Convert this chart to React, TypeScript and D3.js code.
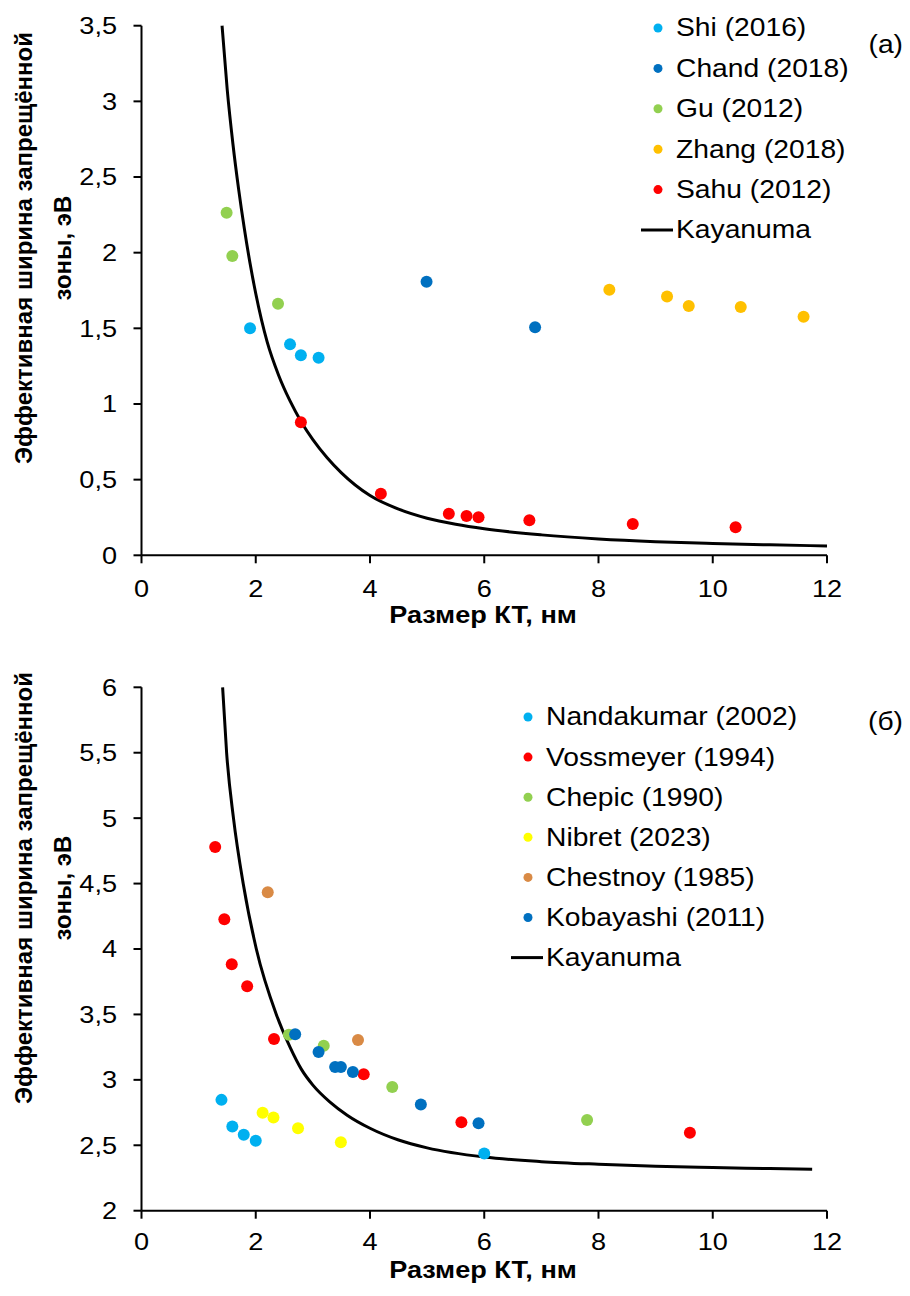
import React from "react";
import * as d3 from "d3";

// ---------- Panel (a) data ----------
const shiA: [number, number][] = [[1.9, 1.5], [2.6, 1.394], [2.79, 1.322], [3.1, 1.306]];
const chandA: [number, number][] = [[4.99, 1.808], [6.89, 1.507]];
const guA: [number, number][] = [[1.49, 2.264], [1.59, 1.978], [2.39, 1.663]];
const zhangA: [number, number][] = [[8.19, 1.755], [9.2, 1.711], [9.58, 1.648], [10.49, 1.641], [11.59, 1.577]];
const sahuA: [number, number][] = [[2.79, 0.879], [4.19, 0.407], [5.38, 0.275], [5.69, 0.26], [5.9, 0.251], [6.79, 0.231], [8.6, 0.207], [10.4, 0.185]];
const kayanumaA: [number, number][] = [
  [1.41, 3.5], [1.5, 3.08], [1.6, 2.72], [1.7, 2.42], [1.8, 2.16], [1.9, 1.93], [2.0, 1.73],
  [2.2, 1.41], [2.4, 1.19], [2.6, 1.02], [2.8, 0.88], [3.0, 0.765], [3.25, 0.645], [3.5, 0.545],
  [4.0, 0.395], [4.5, 0.305], [5.0, 0.245], [5.5, 0.205], [6.0, 0.175], [7.0, 0.135], [8.0, 0.108],
  [9.0, 0.09], [10.0, 0.078], [11.0, 0.069], [12.0, 0.062],
];
const yTicksA = [0, 0.5, 1, 1.5, 2, 2.5, 3, 3.5];

// ---------- Panel (б) data ----------
const nandakumarB: [number, number][] = [[1.4, 2.847], [1.59, 2.643], [1.79, 2.58], [2.0, 2.534], [6.0, 2.437]];
const vossmeyerB: [number, number][] = [[1.29, 4.78], [1.45, 4.227], [1.58, 3.884], [1.85, 3.716], [2.32, 3.312], [3.89, 3.042], [5.6, 2.676], [9.6, 2.595]];
const chepicB: [number, number][] = [[2.58, 3.345], [3.19, 3.261], [4.39, 2.946], [7.8, 2.694]];
const nibretB: [number, number][] = [[2.12, 2.748], [2.31, 2.712], [2.74, 2.631], [3.49, 2.524]];
const chestnoyB: [number, number][] = [[2.21, 4.433], [3.79, 3.304]];
const kobayashiB: [number, number][] = [[2.69, 3.348], [3.1, 3.213], [3.39, 3.098], [3.49, 3.098], [3.7, 3.06], [4.89, 2.811], [5.9, 2.669]];
const kayanumaB: [number, number][] = [
  [1.42, 6.0], [1.49, 5.5], [1.61, 5.0], [1.78, 4.5], [2.01, 4.0], [2.36, 3.5], [2.6, 3.25],
  [2.8, 3.08], [3.0, 2.96], [3.3, 2.83], [3.6, 2.73], [4.0, 2.63], [4.5, 2.54], [5.0, 2.48],
  [6.0, 2.41], [7.0, 2.375], [8.0, 2.355], [9.0, 2.34], [10.0, 2.33], [11.0, 2.322], [11.74, 2.316],
];
const yTicksB = [2, 2.5, 3, 3.5, 4, 4.5, 5, 5.5, 6];

const xTicks = [0, 2, 4, 6, 8, 10, 12];

const seriesA = [
  { name: "Shi (2016)", color: "#00B0F0", data: shiA },
  { name: "Chand (2018)", color: "#0070C0", data: chandA },
  { name: "Gu (2012)", color: "#92D050", data: guA },
  { name: "Zhang (2018)", color: "#FFC000", data: zhangA },
  { name: "Sahu (2012)", color: "#FF0000", data: sahuA },
];
const seriesB = [
  { name: "Nandakumar (2002)", color: "#00B0F0", data: nandakumarB },
  { name: "Vossmeyer (1994)", color: "#FF0000", data: vossmeyerB },
  { name: "Chepic (1990)", color: "#92D050", data: chepicB },
  { name: "Nibret (2023)", color: "#FFFF00", data: nibretB },
  { name: "Chestnoy (1985)", color: "#D98A45", data: chestnoyB },
  { name: "Kobayashi (2011)", color: "#0070C0", data: kobayashiB },
];

const FONT = "'Liberation Sans', Arial, sans-serif";
const SX = 1.13;
const fmt = (v: number) => String(v).replace(".", ",");

function T(props: {
  x: number;
  y: number;
  size: number;
  anchor?: "start" | "middle" | "end";
  bold?: boolean;
  children: React.ReactNode;
}) {
  return (
    <text
      transform={`translate(${props.x},${props.y}) scale(${SX},1)`}
      textAnchor={props.anchor || "start"}
      dominantBaseline="central"
      fontSize={props.size}
      fontWeight={props.bold ? "bold" : "normal"}
      fill="#000"
    >
      {props.children}
    </text>
  );
}

type PanelProps = {
  yDomain: [number, number];
  yRange: [number, number];
  yTicks: number[];
  series: { name: string; color: string; data: [number, number][] }[];
  curve: [number, number][];
  xLabelY: number;
  xTitleY: number;
  yTitleCenter: number;
  legendX: number;
  legendY: number;
  legendStep: number;
  tag: string;
  tagY: number;
};

function Panel(p: PanelProps) {
  const x = d3.scaleLinear().domain([0, 12]).range([141.5, 827]);
  const y = d3.scaleLinear().domain(p.yDomain).range(p.yRange);
  const line = d3
    .line<[number, number]>()
    .x((d) => x(d[0]))
    .y((d) => y(d[1]))
    .curve(d3.curveMonotoneX);
  const x0 = x(0);
  const yBase = y(p.yDomain[0]);
  const fs = 24;
  const nL = p.series.length;
  return (
    <g fontFamily={FONT}>
      {/* axes */}
      <line x1={x0} x2={x0} y1={y(p.yDomain[1])} y2={yBase} stroke="#000" strokeWidth={2} />
      <line x1={x0} x2={x(12)} y1={yBase} y2={yBase} stroke="#000" strokeWidth={2} />
      {p.yTicks.map((t) => (
        <g key={"y" + t}>
          <line x1={x0 - 8} x2={x0} y1={y(t)} y2={y(t)} stroke="#000" strokeWidth={2} />
          <T x={117} y={y(t)} size={fs} anchor="end">
            {fmt(t)}
          </T>
        </g>
      ))}
      {xTicks.map((t) => (
        <g key={"x" + t}>
          <line x1={x(t)} x2={x(t)} y1={yBase} y2={yBase + 8} stroke="#000" strokeWidth={2} />
          <T x={x(t)} y={p.xLabelY} size={fs} anchor="middle">
            {fmt(t)}
          </T>
        </g>
      ))}
      {/* titles */}
      <T x={483} y={p.xTitleY} size={24} anchor="middle" bold>
        Размер КТ, нм
      </T>
      <g transform={`translate(0,${p.yTitleCenter}) rotate(-90)`}>
        <text x={0} y={23} textAnchor="middle" dominantBaseline="central" fontSize={24} fontWeight="bold">
          Эффективная ширина запрещённой
        </text>
        <text x={0} y={62} textAnchor="middle" dominantBaseline="central" fontSize={24} fontWeight="bold">
          зоны, эВ
        </text>
      </g>
      {/* curve */}
      <path d={line(p.curve) || ""} fill="none" stroke="#000" strokeWidth={3} />
      {/* points */}
      {p.series.map((s) =>
        s.data.map((d, i) => (
          <circle key={s.name + i} cx={x(d[0])} cy={y(d[1])} r={6} fill={s.color} />
        ))
      )}
      {/* legend */}
      {p.series.map((s, i) => (
        <g key={"lg" + s.name}>
          <circle cx={p.legendX} cy={p.legendY + i * p.legendStep} r={4.5} fill={s.color} />
          <T x={p.legendX + 18} y={p.legendY + i * p.legendStep} size={25}>
            {s.name}
          </T>
        </g>
      ))}
      <line
        x1={p.legendX - 17}
        x2={p.legendX + 15}
        y1={p.legendY + nL * p.legendStep}
        y2={p.legendY + nL * p.legendStep}
        stroke="#000"
        strokeWidth={3}
      />
      <T x={p.legendX + 18} y={p.legendY + nL * p.legendStep} size={25}>
        Kayanuma
      </T>
      <T x={903} y={p.tagY} size={25} anchor="end">
        {p.tag}
      </T>
    </g>
  );
}

export default function App() {
  return (
    <svg
      width={910}
      height={1296}
      style={{ position: "absolute", left: 0, top: 0, background: "#fff" }}
    >
      <rect width={910} height={1296} fill="#fff" />
      <Panel
        yDomain={[0, 3.5]}
        yRange={[555.3, 25.7]}
        yTicks={yTicksA}
        series={seriesA}
        curve={kayanumaA}
        xLabelY={589}
        xTitleY={615}
        yTitleCenter={248}
        legendX={658}
        legendY={28}
        legendStep={40.4}
        tag="(a)"
        tagY={45}
      />
      <Panel
        yDomain={[2, 6]}
        yRange={[1210.7, 687.3]}
        yTicks={yTicksB}
        series={seriesB}
        curve={kayanumaB}
        xLabelY={1242}
        xTitleY={1270}
        yTitleCenter={888}
        legendX={528}
        legendY={717}
        legendStep={40.1}
        tag="(б)"
        tagY={722}
      />
    </svg>
  );
}
